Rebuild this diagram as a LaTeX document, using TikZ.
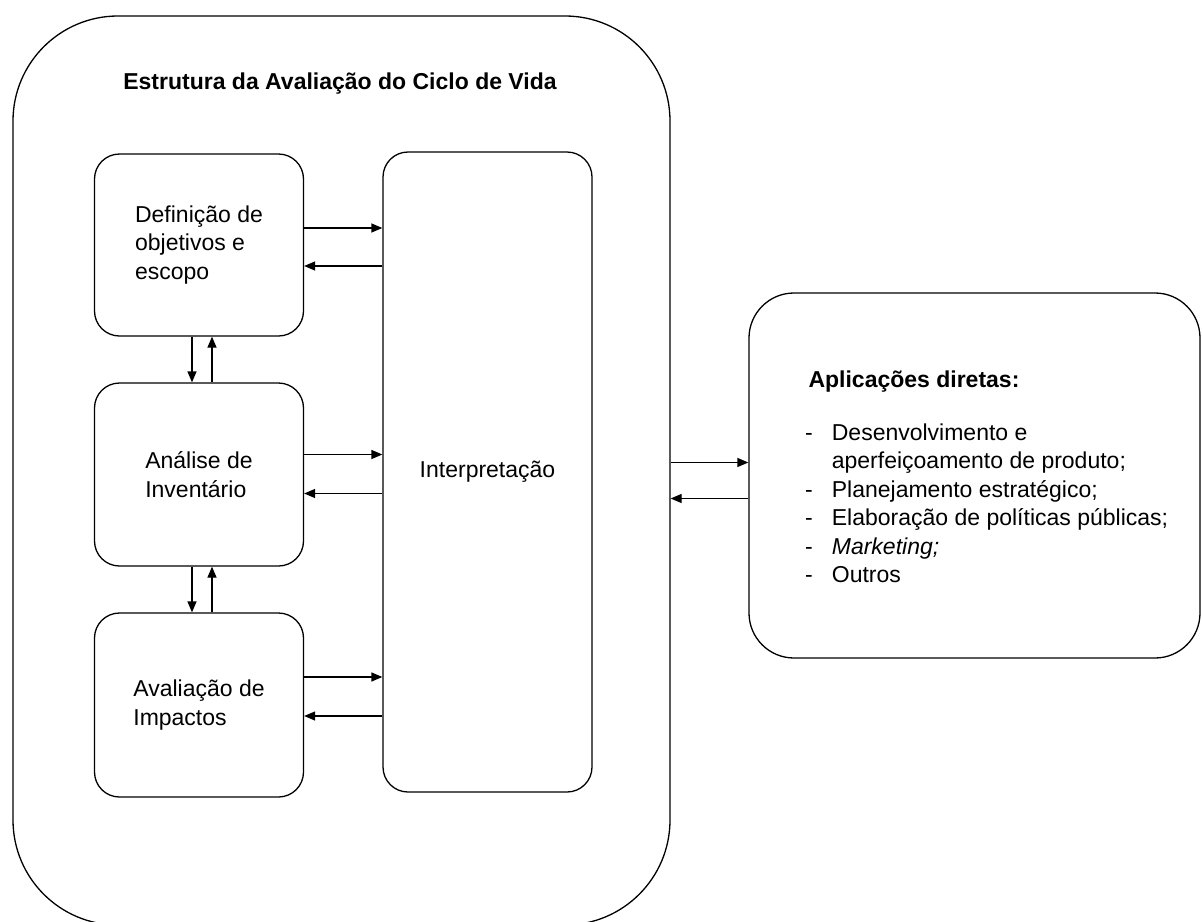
\documentclass[tikz,border=0pt]{standalone}
\usepackage{fontspec}
\setmainfont{Liberation Sans}
\usetikzlibrary{arrows.meta,positioning}

\begin{document}
\begin{tikzpicture}[x=1pt,y=-1pt,
  font=\fontsize{23}{28.5}\selectfont,
  caixa/.style={draw,line width=1.3pt,rounded corners=25pt,inner sep=0pt},
  seta/.style={line width=1.3pt,-{Triangle[length=11pt,width=9pt]}}]
\useasboundingbox (0,0) rectangle (1202,921);

\node[caixa,rounded corners=105pt,minimum width=657pt,minimum height=909pt] (acv) at (341.5,470.5) {};
\node[font=\fontsize{23}{28.5}\selectfont\bfseries] (titulo) at (340,84) {Estrutura da Avaliação do Ciclo de Vida};

\node[caixa,minimum width=209pt,minimum height=182pt,align=left] (objetivo) at (199,245) {Definição de\\objetivos e\\escopo};
\node[caixa,minimum width=209pt,minimum height=183pt,align=left] (inventario) at (199,474.5) {Análise de\\Inventário};
\node[caixa,minimum width=209pt,minimum height=184pt,align=left] (impactos) at (199,705) {Avaliação de\\Impactos};
\node[caixa,minimum width=209pt,minimum height=640pt] (interp) at (487.5,472) {Interpretação};

\node[caixa,rounded corners=45pt,minimum width=451pt,minimum height=365pt] (apl) at (974.5,475.5) {};
\node[anchor=base west,font=\fontsize{23}{28.5}\selectfont\bfseries] (aplic) at (805,387) {Aplicações diretas:};
\node[anchor=base west,inner sep=0pt] (lista) at (805,440) {\begin{tabular}[t]{@{}l@{\hspace{19pt}}l@{}}
- & Desenvolvimento e\\
  & aperfeiçoamento de produto;\\
- & Planejamento estratégico;\\
- & Elaboração de políticas públicas;\\
- & \textit{Marketing;}\\
- & Outros
\end{tabular}};

\foreach \caixa/\ida/\volta in {objetivo/17/-21,inventario/20/-19,impactos/28/-11}{
  \draw[seta] ([yshift=\ida pt]\caixa.east) -- ([yshift=\ida pt]\caixa.east -| interp.west);
  \draw[seta] ([yshift=\volta pt]\caixa.east -| interp.west) -- ([yshift=\volta pt]\caixa.east);
}

\draw[seta] ([xshift=-7pt]objetivo.south) -- ([xshift=-7pt]inventario.north);
\draw[seta] ([xshift=13pt]inventario.north) -- ([xshift=13pt]objetivo.south);
\draw[seta] ([xshift=-7pt]inventario.south) -- ([xshift=-7pt]impactos.north);
\draw[seta] ([xshift=13pt]impactos.north) -- ([xshift=13pt]inventario.south);

\draw[seta] ([yshift=8pt]acv.east) -- ([yshift=8pt]acv.east -| apl.west);
\draw[seta] ([yshift=-28pt]acv.east -| apl.west) -- ([yshift=-28pt]acv.east);
\end{tikzpicture}
\end{document}
